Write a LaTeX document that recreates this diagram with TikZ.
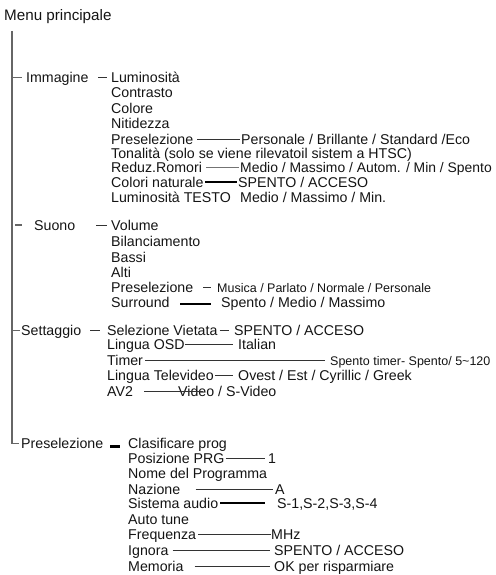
\documentclass[tikz,border=0pt]{standalone}
\usepackage{fontspec}
\setmainfont{Liberation Sans}
\begin{document}
\begin{tikzpicture}[x=1pt,y=-1pt]
\tikzset{
  txt/.style={anchor=west, inner sep=0pt, text height=10pt, text depth=0pt,
              font=\fontsize{14.2}{16}\selectfont, text=black!92},
  smalltxt/.style={txt, font=\fontsize{12.5}{14}\selectfont},
  conn/.style={draw=black!80, line width=0.9pt},
  grayconn/.style={draw=black!55, line width=1.1pt},
  boldconn/.style={draw=black, line width=2.4pt},
  trunk/.style={draw=black!60, line width=1.8pt}
}
\useasboundingbox (0,0) rectangle (495,575);

% root and branches
\node[txt, font=\fontsize{15.2}{17}\selectfont] (menu) at (4,16) {Menu principale};
\coordinate (top) at (12,31);
\node[txt] (imm)   at (26,77.5)  {Immagine};
\node[txt] (suono) at (34,225)   {Suono};
\node[txt] (sett)  at (21,330.5) {Settaggio};
\node[txt] (pres)  at (21,443.5) {Preselezione};

% Immagine items
\node[txt] (lum)  at (111,77.5)  {Luminosità};
\node[txt] (con)  at (111,92.5)  {Contrasto};
\node[txt] (col)  at (111,108.3) {Colore};
\node[txt] (nit)  at (111,123.3) {Nitidezza};
\node[txt] (ipre) at (111,139)   {Preselezione};
\node[txt] (ton)  at (111,153.6) {Tonalità (solo se viene rilevatoil sistem a HTSC)};
\node[txt] (red)  at (111,167.6) {Reduz.Romori};
\node[txt] (cnat) at (111,182)   {Colori naturale};
\node[txt] (ltes) at (111,197.5) {Luminosità TESTO};
\node[txt] (ipreV) at (241,139)   {Personale / Brillante / Standard /Eco};
\node[txt, font=\fontsize{13.9}{16}\selectfont] (redV) at (240,167.6) {Medio / Massimo / Autom. / Min / Spento};
\node[txt] (cnatV) at (238,182)   {SPENTO / ACCESO};
\node[txt] (ltesV) at (240,197.5) {Medio / Massimo / Min.};

% Suono items
\node[txt] (vol)  at (111,225)   {Volume};
\node[txt] (bil)  at (111,241.5) {Bilanciamento};
\node[txt] (bas)  at (111,257.5) {Bassi};
\node[txt] (alt)  at (111,272.5) {Alti};
\node[txt] (spre) at (111,287)   {Preselezione};
\node[txt] (sur)  at (111,302)   {Surround};
\node[smalltxt] (spreV) at (217,287) {Musica / Parlato / Normale / Personale};
\node[txt] (surV) at (221,302) {Spento / Medio / Massimo};

% Settaggio items
\node[txt] (sel) at (107,330.5) {Selezione Vietata};
\node[txt] (osd) at (107,344.5) {Lingua OSD};
\node[txt] (tim) at (107,360.5) {Timer};
\node[txt] (tel) at (107,375.5) {Lingua Televideo};
\node[txt] (av2) at (107,391)   {AV2};
\node[txt] (selV) at (234,330.5) {SPENTO / ACCESO};
\node[txt] (osdV) at (238,344.5) {Italian};
\node[smalltxt] (timV) at (330,360.5) {Spento timer- Spento/ 5\textasciitilde120};
\node[txt] (telV) at (238,375.5) {Ovest / Est / Cyrillic / Greek};
\node[txt] (av2V) at (178,391)   {Video / S-Video};

% Preselezione items
\node[txt] (cla)  at (128,443.5) {Clasificare prog};
\node[txt] (pos)  at (128,458.3) {Posizione PRG};
\node[txt] (nome) at (128,473.3) {Nome del Programma};
\node[txt] (naz)  at (128,489.7) {Nazione};
\node[txt] (sis)  at (128,503)   {Sistema audio};
\node[txt] (auto) at (128,519.3) {Auto tune};
\node[txt] (freq) at (128,534.3) {Frequenza};
\node[txt] (ign)  at (128,550)   {Ignora};
\node[txt] (mem)  at (128,566)   {Memoria};
\node[txt] (posV)  at (268,458.3) {1};
\node[txt] (nazV)  at (275,489.7) {A};
\node[txt] (sisV)  at (277,503)   {S-1,S-2,S-3,S-4};
\node[txt] (freqV) at (271,534.3) {MHz};
\node[txt] (ignV)  at (274,550)   {SPENTO / ACCESO};
\node[txt] (memV)  at (274,566)   {OK per risparmiare};

% trunk and branch ticks
\draw[trunk] (top) |- ([xshift=-2pt]pres.west);
\draw[trunk] (top |- imm.west) -- ([xshift=-4pt]imm.west);
\draw[trunk] ([xshift=3pt]top |- suono.west) -- ([xshift=-12pt]suono.west);
\draw[trunk] (top |- sett.west) -- ([xshift=-1pt]sett.west);

% branch to first item
\draw[conn, shorten <=9.7pt, shorten >=4pt] (imm) -- (lum);
\draw[conn, shorten <=21pt, shorten >=4pt] (suono) -- (vol);
\draw[conn, shorten <=9pt, shorten >=7pt] (sett) -- (sel);
\draw[boldconn] ([xshift=7pt,yshift=-3pt]pres.east) -- ([xshift=-8pt,yshift=-3pt]cla.west);

% Immagine connectors
\draw[conn, shorten <=4pt, shorten >=1pt] (ipre) -- (ipreV);
\draw[grayconn, shorten <=4pt, shorten >=1pt] (red) -- (redV);
\draw[boldconn, shorten <=1pt, shorten >=1pt] (cnat) -- (cnatV);

% Suono connectors
\draw[conn, shorten <=10pt, shorten >=6pt] (spre) -- (spreV);
\draw[boldconn] ([xshift=10.6pt,yshift=-2pt]sur.east) -- ([xshift=-10pt,yshift=-2pt]surV.west);

% Settaggio connectors
\draw[conn, shorten <=2pt, shorten >=5pt] (sel) -- (selV);
\draw[conn, shorten >=5pt] (osd) -- (osdV);
\draw[conn, shorten <=2pt, shorten >=5pt] (tim) -- (timV);
\draw[conn, shorten <=1pt, shorten >=5pt] (tel) -- (telV);
\draw[conn] ([xshift=11pt]av2.east) -- ([xshift=25pt]av2V.west);

% Preselezione connectors
\draw[conn, shorten <=1pt, shorten >=3pt] (pos) -- (posV);
\draw[conn, shorten <=15pt, shorten >=2pt] (naz) -- (nazV);
\draw[boldconn, shorten <=2pt, shorten >=12pt] (sis) -- (sisV);
\draw[conn, shorten <=2pt] (freq) -- (freqV);
\draw[conn, shorten <=4pt, shorten >=4pt] (ign) -- (ignV);
\draw[conn, shorten <=11pt, shorten >=4pt] (mem) -- (memV);
\end{tikzpicture}
\end{document}
